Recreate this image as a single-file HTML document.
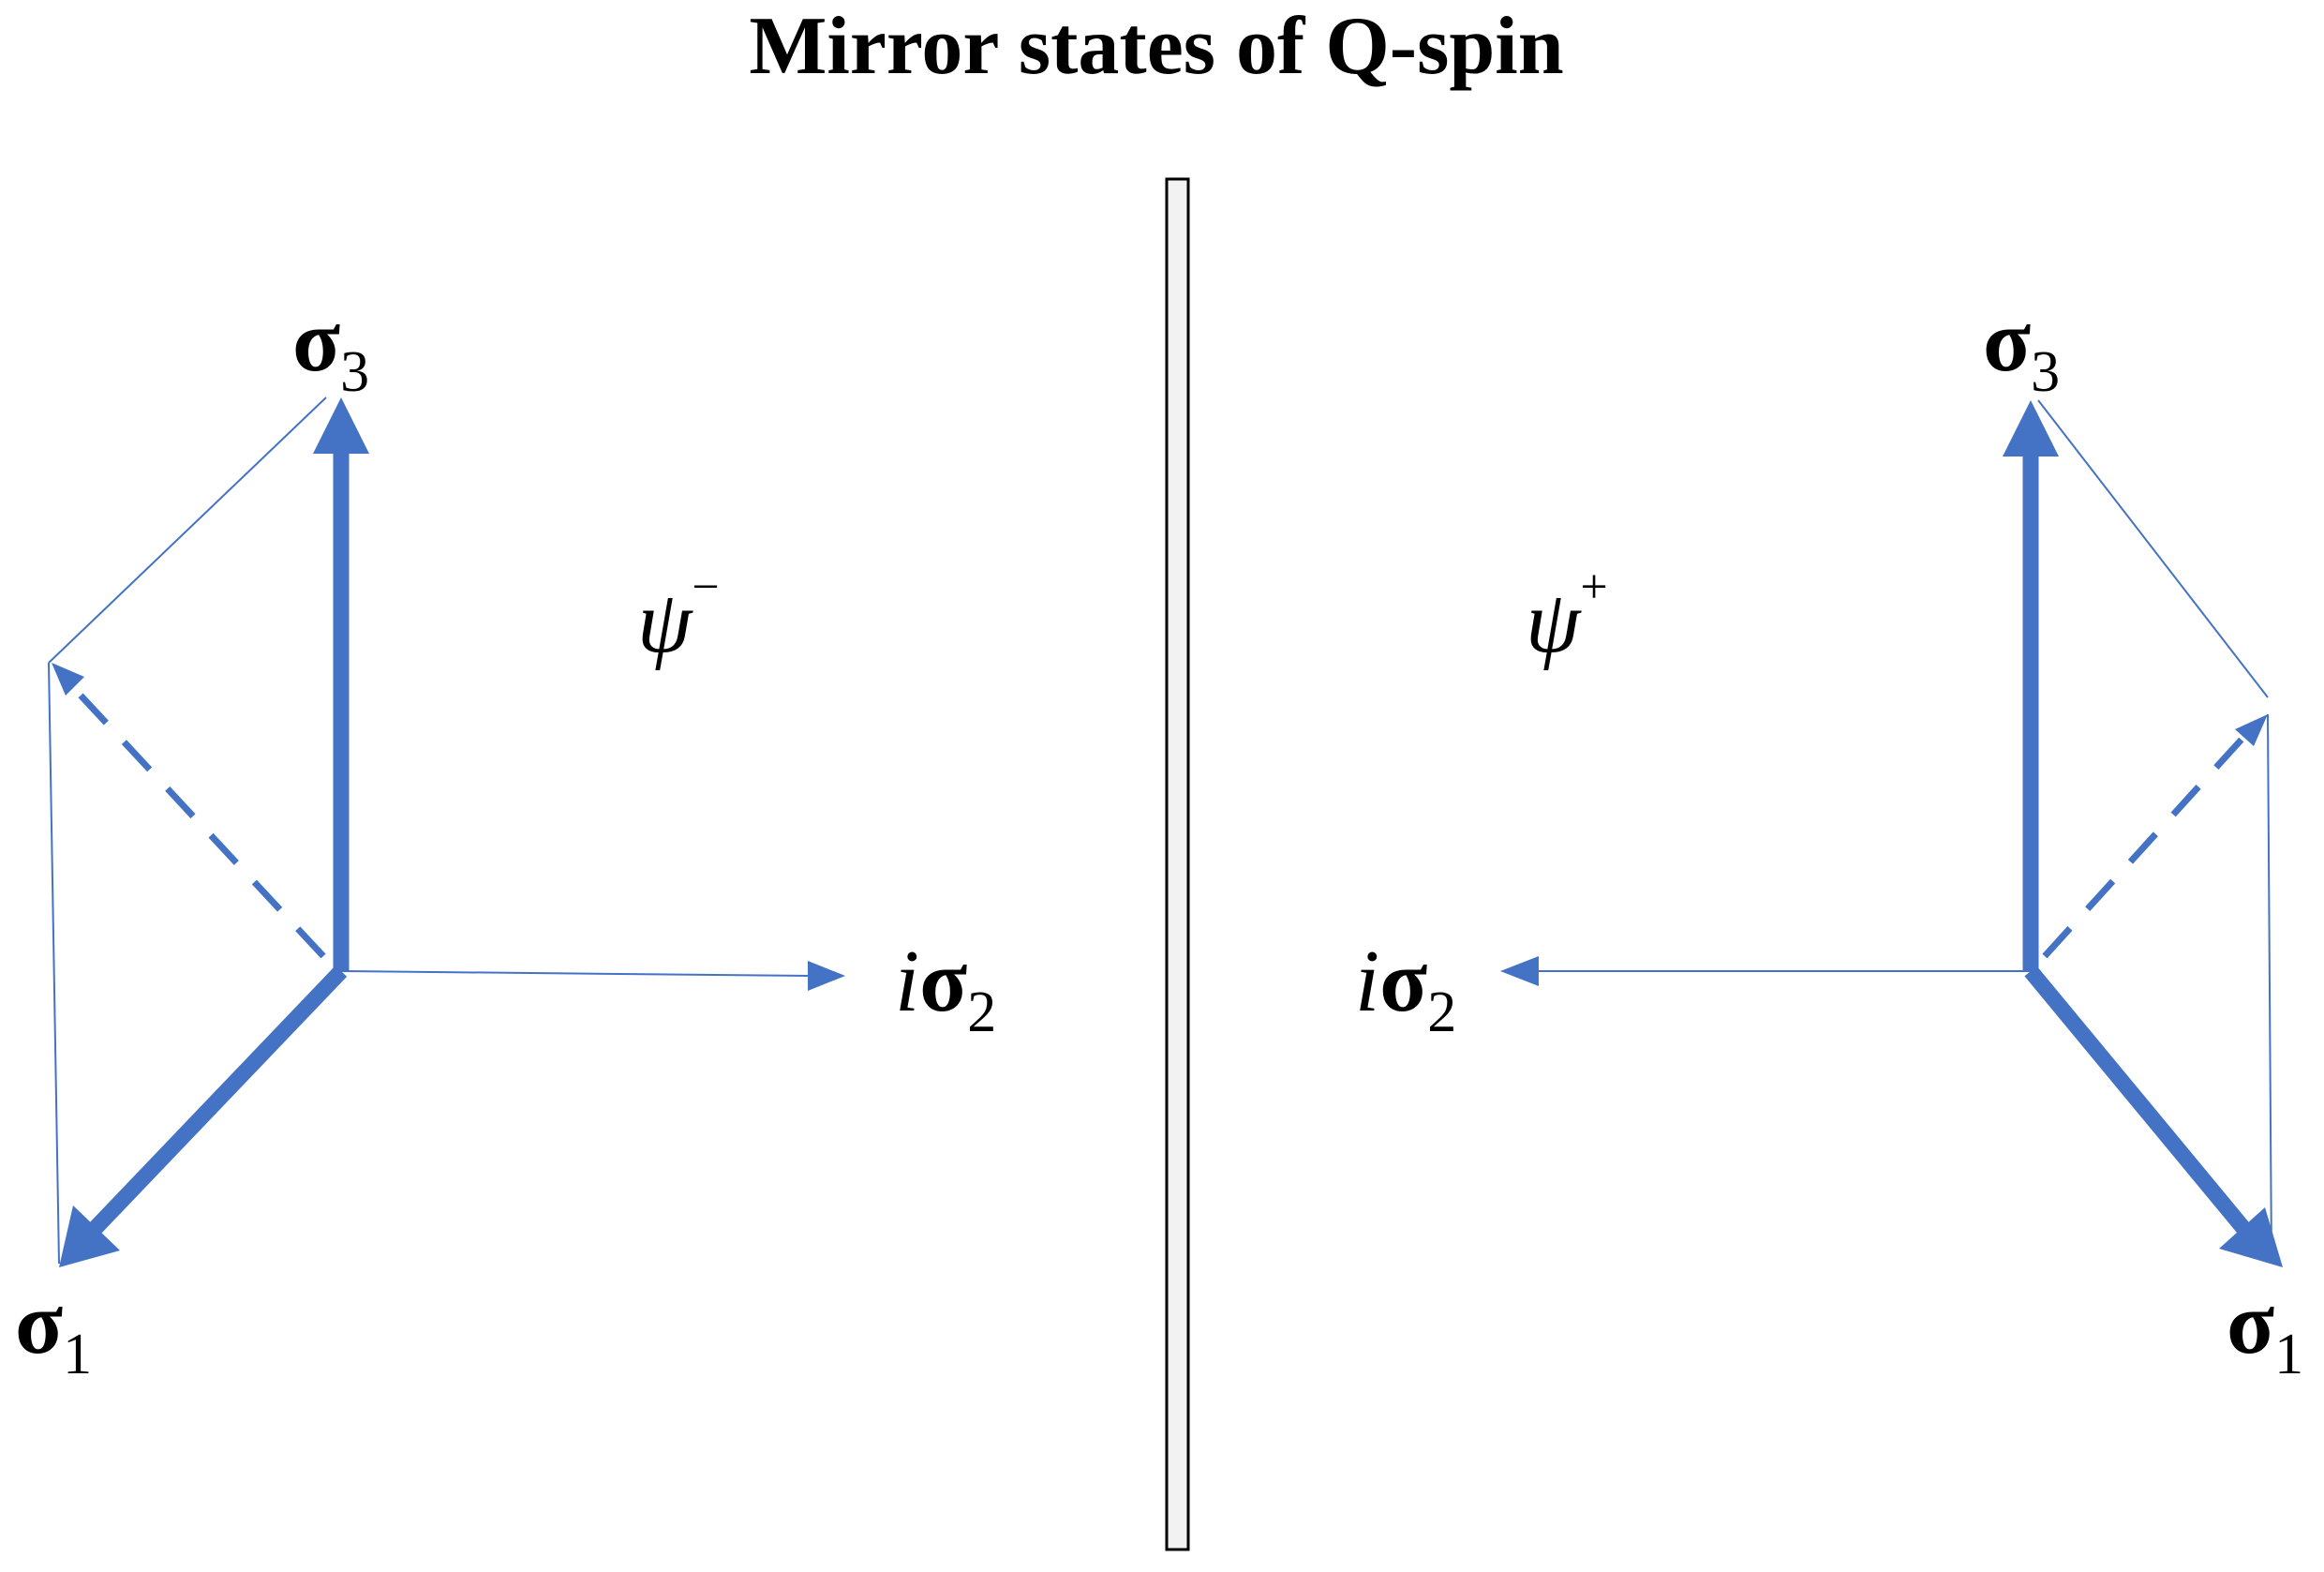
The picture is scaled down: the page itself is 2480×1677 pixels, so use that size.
<!DOCTYPE html>
<html><head><meta charset="utf-8"><style>html,body{margin:0;padding:0;background:#fff}svg{display:block}</style></head><body>
<svg width="2480" height="1677" viewBox="0 0 2480 1677" xmlns="http://www.w3.org/2000/svg" font-family="Liberation Serif, serif">
<rect width="2480" height="1677" fill="#fff"/>
<text x="1234" y="78" font-size="88" font-weight="bold" text-anchor="middle">Mirror states of Q-spin</text>
<rect x="1245" y="191" width="23" height="1462" fill="#f2f2f2" stroke="#000" stroke-width="3"/>
<g stroke="#4472C4" fill="#4472C4">
<line x1="364" y1="1036" x2="364" y2="480" stroke-width="17"/>
<polygon points="364,424 334,484 394,484" stroke="none"/>
<line x1="348" y1="424" x2="52" y2="707" stroke-width="2"/>
<line x1="52" y1="707" x2="63" y2="1348" stroke-width="2"/>
<line x1="345" y1="1020" x2="75" y2="730" stroke-width="7" stroke-dasharray="40,28"/>
<polygon points="55,707 90,722 70,742" stroke="none"/>
<line x1="364" y1="1036" x2="100" y2="1312" stroke-width="17"/>
<polygon points="63,1352 78,1286 128,1334" stroke="none"/>
<line x1="364" y1="1036" x2="865" y2="1041" stroke-width="2"/>
<polygon points="902,1041 862,1025 862,1057" stroke="none"/>
<line x1="2167" y1="1036" x2="2167" y2="482" stroke-width="17"/>
<polygon points="2167,427 2137,487 2197,487" stroke="none"/>
<line x1="2175" y1="427" x2="2420" y2="744" stroke-width="2"/>
<line x1="2420" y1="762" x2="2424" y2="1348" stroke-width="2"/>
<line x1="2182" y1="1020" x2="2400" y2="780" stroke-width="7" stroke-dasharray="40,28"/>
<polygon points="2420,762 2385,778 2405,796" stroke="none"/>
<line x1="2167" y1="1036" x2="2398" y2="1315" stroke-width="17"/>
<polygon points="2436,1352 2368,1332 2417,1288" stroke="none"/>
<line x1="2167" y1="1036" x2="1640" y2="1036" stroke-width="2"/>
<polygon points="1601,1036 1642,1020 1642,1052" stroke="none"/>
</g>
<g fill="#000">
<text x="312" y="395" font-size="94" font-weight="bold">σ<tspan font-size="62" font-weight="normal" dy="22">3</tspan></text>
<text x="16" y="1443" font-size="94" font-weight="bold">σ<tspan font-size="62" font-weight="normal" dy="22">1</tspan></text>
<text x="955" y="1078" font-size="94"><tspan font-style="italic">i</tspan><tspan font-weight="bold">σ</tspan><tspan font-size="62" dy="22">2</tspan></text>
<text x="680" y="695" font-size="94" font-style="italic">ψ<tspan font-size="52" font-style="normal" dy="-52">−</tspan></text>
<text x="2116" y="395" font-size="94" font-weight="bold">σ<tspan font-size="62" font-weight="normal" dy="22">3</tspan></text>
<text x="2376" y="1443" font-size="94" font-weight="bold">σ<tspan font-size="62" font-weight="normal" dy="22">1</tspan></text>
<text x="1446" y="1078" font-size="94"><tspan font-style="italic">i</tspan><tspan font-weight="bold">σ</tspan><tspan font-size="62" dy="22">2</tspan></text>
<text x="1628" y="695" font-size="94" font-style="italic">ψ<tspan font-size="52" font-style="normal" dy="-52">+</tspan></text>
</g>
</svg>
</body></html>
